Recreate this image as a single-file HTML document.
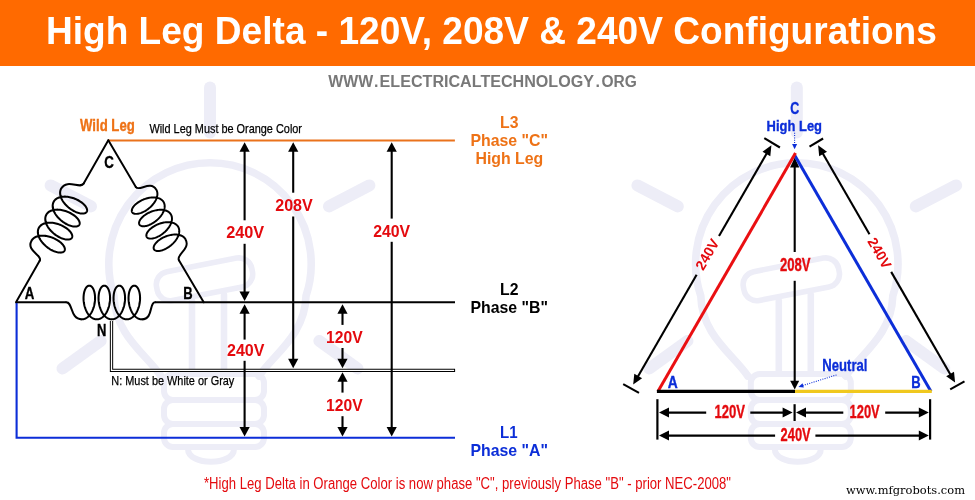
<!DOCTYPE html>
<html lang="en"><head><meta charset="utf-8"><title>High Leg Delta - 120V, 208V &amp; 240V Configurations</title>
<style>html,body{margin:0;padding:0;background:#fff;overflow:hidden}svg{display:block;will-change:transform}</style></head>
<body>
<svg width="975" height="500" viewBox="0 0 975 500" role="img" aria-label="High Leg Delta diagram">
<defs><g id="bulb" fill="none" stroke="#ededf7" stroke-width="12" stroke-linecap="round" stroke-linejoin="round">
<line x1="0" y1="87.5" x2="0" y2="132.5"/>
<line x1="-159.4" y1="185.4" x2="-119" y2="206.4"/>
<line x1="159.4" y1="185.4" x2="119" y2="206.4"/>
<line x1="-147.5" y1="368.5" x2="-109.4" y2="341"/>
<line x1="147.5" y1="368.5" x2="109.4" y2="341"/>
<path d="M-49,376 C-64,354 -95,335 -96,296 A101.2,101.2 0 1 1 96,296 C95,335 64,354 49,376" stroke-width="7.6"/>
<rect x="-48.5" y="-14.7" width="97" height="29.4" rx="13" stroke-width="5.6" transform="translate(-5.5,279.3) rotate(-11)"/>
<path d="M-18,301 V373 M14,295 V373" stroke-width="6.6"/>
<rect x="-46" y="374" width="100" height="26" rx="9" stroke-width="6"/>
<rect x="-46" y="400" width="100" height="24" rx="9" stroke-width="6"/>
<rect x="-46" y="424" width="100" height="23" rx="9" stroke-width="6"/>
<path d="M-22,449 C-22,466 24,466 24,449" stroke-width="6"/>
</g><path id="coil" d="M66.3,302.3 C73,302.3 70,319.3 81.8,319.35 L82.53,319.32 83.25,319.22 83.97,319.05 84.69,318.82 85.39,318.53 86.09,318.17 86.77,317.75 87.43,317.27 88.08,316.73 88.71,316.13 89.31,315.48 89.90,314.78 90.46,314.03 90.99,313.24 91.49,312.40 91.97,311.53 92.41,310.62 92.82,309.67 93.20,308.70 93.55,307.71 93.86,306.69 94.14,305.66 94.38,304.61 94.58,303.56 94.75,302.50 94.88,301.44 94.98,300.39 95.04,299.34 95.06,298.31 95.05,297.29 95.00,296.30 94.92,295.33 94.81,294.38 94.67,293.47 94.49,292.60 94.29,291.76 94.06,290.97 93.80,290.22 93.51,289.52 93.21,288.87 92.88,288.27 92.53,287.73 92.17,287.25 91.79,286.83 91.39,286.47 90.99,286.18 90.57,285.95 90.15,285.78 89.73,285.68 89.30,285.65 88.87,285.68 88.45,285.78 88.03,285.95 87.61,286.18 87.21,286.47 86.81,286.83 86.43,287.25 86.07,287.73 85.72,288.27 85.39,288.87 85.09,289.52 84.80,290.22 84.54,290.97 84.31,291.76 84.11,292.60 83.93,293.47 83.79,294.38 83.68,295.33 83.60,296.30 83.55,297.29 83.54,298.31 83.56,299.34 83.62,300.39 83.72,301.44 83.85,302.50 84.02,303.56 84.22,304.61 84.46,305.66 84.74,306.69 85.05,307.71 85.40,308.70 85.78,309.67 86.19,310.62 86.63,311.53 87.11,312.40 87.61,313.24 88.14,314.03 88.70,314.78 89.29,315.48 89.89,316.13 90.52,316.73 91.17,317.27 91.83,317.75 92.51,318.17 93.21,318.53 93.91,318.82 94.63,319.05 95.35,319.22 96.07,319.32 96.80,319.35 97.53,319.32 98.25,319.22 98.97,319.05 99.69,318.82 100.39,318.53 101.09,318.17 101.77,317.75 102.43,317.27 103.08,316.73 103.71,316.13 104.31,315.48 104.90,314.78 105.46,314.03 105.99,313.24 106.49,312.40 106.97,311.53 107.41,310.62 107.82,309.67 108.20,308.70 108.55,307.71 108.86,306.69 109.14,305.66 109.38,304.61 109.58,303.56 109.75,302.50 109.88,301.44 109.98,300.39 110.04,299.34 110.06,298.31 110.05,297.29 110.00,296.30 109.92,295.33 109.81,294.38 109.67,293.47 109.49,292.60 109.29,291.76 109.06,290.97 108.80,290.22 108.51,289.52 108.21,288.87 107.88,288.27 107.53,287.73 107.17,287.25 106.79,286.83 106.39,286.47 105.99,286.18 105.57,285.95 105.15,285.78 104.73,285.68 104.30,285.65 103.87,285.68 103.45,285.78 103.03,285.95 102.61,286.18 102.21,286.47 101.81,286.83 101.43,287.25 101.07,287.73 100.72,288.27 100.39,288.87 100.09,289.52 99.80,290.22 99.54,290.97 99.31,291.76 99.11,292.60 98.93,293.47 98.79,294.38 98.68,295.33 98.60,296.30 98.55,297.29 98.54,298.31 98.56,299.34 98.62,300.39 98.72,301.44 98.85,302.50 99.02,303.56 99.22,304.61 99.46,305.66 99.74,306.69 100.05,307.71 100.40,308.70 100.78,309.67 101.19,310.62 101.63,311.53 102.11,312.40 102.61,313.24 103.14,314.03 103.70,314.78 104.29,315.48 104.89,316.13 105.52,316.73 106.17,317.27 106.83,317.75 107.51,318.17 108.21,318.53 108.91,318.82 109.63,319.05 110.35,319.22 111.07,319.32 111.80,319.35 112.53,319.32 113.25,319.22 113.97,319.05 114.69,318.82 115.39,318.53 116.09,318.17 116.77,317.75 117.43,317.27 118.08,316.73 118.71,316.13 119.31,315.48 119.90,314.78 120.46,314.03 120.99,313.24 121.49,312.40 121.97,311.53 122.41,310.62 122.82,309.67 123.20,308.70 123.55,307.71 123.86,306.69 124.14,305.66 124.38,304.61 124.58,303.56 124.75,302.50 124.88,301.44 124.98,300.39 125.04,299.34 125.06,298.31 125.05,297.29 125.00,296.30 124.92,295.33 124.81,294.38 124.67,293.47 124.49,292.60 124.29,291.76 124.06,290.97 123.80,290.22 123.51,289.52 123.21,288.87 122.88,288.27 122.53,287.73 122.17,287.25 121.79,286.83 121.39,286.47 120.99,286.18 120.57,285.95 120.15,285.78 119.73,285.68 119.30,285.65 118.87,285.68 118.45,285.78 118.03,285.95 117.61,286.18 117.21,286.47 116.81,286.83 116.43,287.25 116.07,287.73 115.72,288.27 115.39,288.87 115.09,289.52 114.80,290.22 114.54,290.97 114.31,291.76 114.11,292.60 113.93,293.47 113.79,294.38 113.68,295.33 113.60,296.30 113.55,297.29 113.54,298.31 113.56,299.34 113.62,300.39 113.72,301.44 113.85,302.50 114.02,303.56 114.22,304.61 114.46,305.66 114.74,306.69 115.05,307.71 115.40,308.70 115.78,309.67 116.19,310.62 116.63,311.53 117.11,312.40 117.61,313.24 118.14,314.03 118.70,314.78 119.29,315.48 119.89,316.13 120.52,316.73 121.17,317.27 121.83,317.75 122.51,318.17 123.21,318.53 123.91,318.82 124.63,319.05 125.35,319.22 126.07,319.32 126.80,319.35 127.53,319.32 128.25,319.22 128.97,319.05 129.69,318.82 130.39,318.53 131.09,318.17 131.77,317.75 132.43,317.27 133.08,316.73 133.71,316.13 134.31,315.48 134.90,314.78 135.46,314.03 135.99,313.24 136.49,312.40 136.97,311.53 137.41,310.62 137.82,309.67 138.20,308.70 138.55,307.71 138.86,306.69 139.14,305.66 139.38,304.61 139.58,303.56 139.75,302.50 139.88,301.44 139.98,300.39 140.04,299.34 140.06,298.31 140.05,297.29 140.00,296.30 139.92,295.33 139.81,294.38 139.67,293.47 139.49,292.60 139.29,291.76 139.06,290.97 138.80,290.22 138.51,289.52 138.21,288.87 137.88,288.27 137.53,287.73 137.17,287.25 136.79,286.83 136.39,286.47 135.99,286.18 135.57,285.95 135.15,285.78 134.73,285.68 134.30,285.65 133.87,285.68 133.45,285.78 133.03,285.95 132.61,286.18 132.21,286.47 131.81,286.83 131.43,287.25 131.07,287.73 130.72,288.27 130.39,288.87 130.09,289.52 129.80,290.22 129.54,290.97 129.31,291.76 129.11,292.60 128.93,293.47 128.79,294.38 128.68,295.33 128.60,296.30 128.55,297.29 128.54,298.31 128.56,299.34 128.62,300.39 128.72,301.44 128.85,302.50 129.02,303.56 129.22,304.61 129.46,305.66 129.74,306.69 130.05,307.71 130.40,308.70 130.78,309.67 131.19,310.62 131.63,311.53 132.11,312.40 132.61,313.24 133.14,314.03 133.70,314.78 134.29,315.48 134.89,316.13 135.52,316.73 136.17,317.27 136.83,317.75 137.51,318.17 138.21,318.53 138.91,318.82 139.63,319.05 140.35,319.22 141.07,319.32 141.80,319.35 C153.5,319.3 149,302.3 155,302.3" fill="none" stroke="#000" stroke-width="2.05" stroke-linejoin="round" stroke-linecap="round"/></defs>
<rect width="975" height="500" fill="#fff"/>
<use href="#bulb" x="210" y="0"/>
<use href="#bulb" x="796.8" y="0"/>
<rect width="975" height="66" fill="#ff6a00"/>
<text x="45.9" y="43.7" font-family='"Liberation Sans", sans-serif' font-size="38" font-weight="bold" fill="#fff" text-anchor="start" textLength="891" lengthAdjust="spacingAndGlyphs">High Leg Delta - 120V, 208V &amp; 240V Configurations</text>
<text y="86.6" font-family='"Liberation Sans", sans-serif' font-size="16" font-weight="bold" fill="#787878"><tspan x="328.3" textLength="44.8" lengthAdjust="spacingAndGlyphs">WWW</tspan><tspan x="374">.</tspan><tspan x="379.6" textLength="214.4" lengthAdjust="spacingAndGlyphs">ELECTRICALTECHNOLOGY</tspan><tspan x="595.4">.</tspan><tspan x="601.4" textLength="35.4" lengthAdjust="spacingAndGlyphs">ORG</tspan></text>
<line x1="108.0" y1="140.5" x2="454.9" y2="140.5" stroke="#ea721c" stroke-width="2.1"/>
<line x1="16" y1="302.3" x2="66.4" y2="302.3" stroke="#000" stroke-width="2.0"/>
<line x1="154.9" y1="302.3" x2="455" y2="302.3" stroke="#000" stroke-width="2.0"/>
<path d="M16.6,303 V437.8 H455" fill="none" stroke="#0c2ed8" stroke-width="2.1"/>
<path d="M111.5,321 V370.4 H455.1" fill="none" stroke="#000" stroke-width="3.3"/>
<path d="M111.5,320 V370.4 H454.1" fill="none" stroke="#fff" stroke-width="1.3"/>
<use href="#coil"/>
<line x1="16" y1="302.3" x2="39.80634056788067" y2="260.5163903358974" stroke="#000" stroke-width="1.95" stroke-linecap="round"/>
<line x1="83.64692159459015" y1="183.5697584146955" x2="108.3" y2="140.3" stroke="#000" stroke-width="1.95" stroke-linecap="round"/>
<use href="#coil" transform="translate(39.81,260.52) rotate(-240.33) scale(0.9984) translate(-155,-302.3)"/>
<line x1="108.3" y1="140.3" x2="135.83191859932165" y2="187.0523146026217" stroke="#000" stroke-width="1.95" stroke-linecap="round"/>
<line x1="178.91597763314692" y1="260.21392428270235" x2="203.7" y2="302.3" stroke="#000" stroke-width="1.95" stroke-linecap="round"/>
<use href="#coil" transform="translate(135.83,187.05) rotate(-120.49) scale(0.9572) translate(-155,-302.3)"/>
<text x="80" y="131" font-family='"Liberation Sans", sans-serif' font-size="16" font-weight="bold" fill="#ee7216" text-anchor="start" textLength="54.8" lengthAdjust="spacingAndGlyphs" stroke="#ee7216" stroke-width="0.35">Wild Leg</text>
<text x="149.4" y="133.2" font-family='"Liberation Sans", sans-serif' font-size="13.2" font-weight="normal" fill="#000" text-anchor="start" textLength="152.6" lengthAdjust="spacingAndGlyphs" stroke="#000" stroke-width="0.25">Wild Leg Must be Orange Color</text>
<text x="111.3" y="384.9" font-family='"Liberation Sans", sans-serif' font-size="13.2" font-weight="normal" fill="#000" text-anchor="start" textLength="123" lengthAdjust="spacingAndGlyphs" stroke="#000" stroke-width="0.25">N: Must be White or Gray</text>
<text x="104.2" y="167.9" font-family='"Liberation Sans", sans-serif' font-size="16.4" font-weight="bold" fill="#000" text-anchor="start" textLength="9.6" lengthAdjust="spacingAndGlyphs" stroke="#000" stroke-width="0.35">C</text>
<text x="24.8" y="298.7" font-family='"Liberation Sans", sans-serif' font-size="17.2" font-weight="bold" fill="#000" text-anchor="start" textLength="9.6" lengthAdjust="spacingAndGlyphs" stroke="#000" stroke-width="0.35">A</text>
<text x="183.2" y="298.8" font-family='"Liberation Sans", sans-serif' font-size="16.2" font-weight="bold" fill="#000" text-anchor="start" textLength="9.4" lengthAdjust="spacingAndGlyphs" stroke="#000" stroke-width="0.35">B</text>
<text x="97" y="336.1" font-family='"Liberation Sans", sans-serif' font-size="17.4" font-weight="bold" fill="#000" text-anchor="start" textLength="9.4" lengthAdjust="spacingAndGlyphs" stroke="#000" stroke-width="0.35">N</text>
<polygon points="244.60,142.20 249.70,151.70 239.50,151.70" fill="#000"/>
<line x1="244.6" y1="150" x2="244.6" y2="220.3" stroke="#000" stroke-width="2.1"/>
<line x1="244.6" y1="243.8" x2="244.6" y2="293" stroke="#000" stroke-width="2.1"/>
<polygon points="244.60,301.00 239.50,291.50 249.70,291.50" fill="#000"/>
<polygon points="244.60,304.30 249.70,313.80 239.50,313.80" fill="#000"/>
<line x1="244.6" y1="312" x2="244.6" y2="339.6" stroke="#000" stroke-width="2.1"/>
<line x1="244.6" y1="360.8" x2="244.6" y2="429" stroke="#000" stroke-width="2.1"/>
<polygon points="244.60,436.60 239.50,427.10 249.70,427.10" fill="#000"/>
<polygon points="293.20,142.20 298.30,151.70 288.10,151.70" fill="#000"/>
<line x1="293.2" y1="150" x2="293.2" y2="192.7" stroke="#000" stroke-width="2.1"/>
<line x1="293.2" y1="216.5" x2="293.2" y2="360.5" stroke="#000" stroke-width="2.1"/>
<polygon points="293.20,368.30 288.10,358.80 298.30,358.80" fill="#000"/>
<polygon points="342.50,304.30 347.60,313.80 337.40,313.80" fill="#000"/>
<line x1="342.5" y1="312" x2="342.5" y2="324.9" stroke="#000" stroke-width="2.1"/>
<line x1="342.5" y1="348" x2="342.5" y2="360.5" stroke="#000" stroke-width="2.1"/>
<polygon points="342.50,368.30 337.40,358.80 347.60,358.80" fill="#000"/>
<polygon points="342.50,372.30 347.60,381.80 337.40,381.80" fill="#000"/>
<line x1="342.5" y1="380.5" x2="342.5" y2="392.6" stroke="#000" stroke-width="2.1"/>
<line x1="342.5" y1="416.2" x2="342.5" y2="429" stroke="#000" stroke-width="2.1"/>
<polygon points="342.50,436.60 337.40,427.10 347.60,427.10" fill="#000"/>
<polygon points="391.70,142.20 396.80,151.70 386.60,151.70" fill="#000"/>
<line x1="391.7" y1="150" x2="391.7" y2="218.6" stroke="#000" stroke-width="2.1"/>
<line x1="391.7" y1="241.8" x2="391.7" y2="429" stroke="#000" stroke-width="2.1"/>
<polygon points="391.70,436.60 386.60,427.10 396.80,427.10" fill="#000"/>
<text x="226.2" y="238.3" font-family='"Liberation Sans", sans-serif' font-size="16" font-weight="bold" fill="#e40a0e" text-anchor="start" textLength="38" lengthAdjust="spacingAndGlyphs">240V</text>
<text x="275.2" y="210.7" font-family='"Liberation Sans", sans-serif' font-size="16" font-weight="bold" fill="#e40a0e" text-anchor="start" textLength="37.6" lengthAdjust="spacingAndGlyphs">208V</text>
<text x="373.2" y="237.3" font-family='"Liberation Sans", sans-serif' font-size="16" font-weight="bold" fill="#e40a0e" text-anchor="start" textLength="37" lengthAdjust="spacingAndGlyphs">240V</text>
<text x="227" y="355.6" font-family='"Liberation Sans", sans-serif' font-size="16" font-weight="bold" fill="#e40a0e" text-anchor="start" textLength="37.4" lengthAdjust="spacingAndGlyphs">240V</text>
<text x="326" y="342.5" font-family='"Liberation Sans", sans-serif' font-size="16" font-weight="bold" fill="#e40a0e" text-anchor="start" textLength="36.6" lengthAdjust="spacingAndGlyphs">120V</text>
<text x="326" y="410.6" font-family='"Liberation Sans", sans-serif' font-size="16" font-weight="bold" fill="#e40a0e" text-anchor="start" textLength="36.6" lengthAdjust="spacingAndGlyphs">120V</text>
<text x="509.3" y="127.5" font-family='"Liberation Sans", sans-serif' font-size="16.2" font-weight="bold" fill="#ee7216" text-anchor="middle" textLength="18.4" lengthAdjust="spacingAndGlyphs">L3</text>
<text x="509.2" y="145.7" font-family='"Liberation Sans", sans-serif' font-size="16.2" font-weight="bold" fill="#ee7216" text-anchor="middle" textLength="77.6" lengthAdjust="spacingAndGlyphs">Phase &quot;C&quot;</text>
<text x="509.4" y="164.4" font-family='"Liberation Sans", sans-serif' font-size="16.2" font-weight="bold" fill="#ee7216" text-anchor="middle" textLength="67.8" lengthAdjust="spacingAndGlyphs">High Leg</text>
<text x="509.3" y="294.7" font-family='"Liberation Sans", sans-serif' font-size="16.2" font-weight="bold" fill="#000" text-anchor="middle" textLength="18.4" lengthAdjust="spacingAndGlyphs">L2</text>
<text x="509.2" y="312.9" font-family='"Liberation Sans", sans-serif' font-size="16.2" font-weight="bold" fill="#000" text-anchor="middle" textLength="77.6" lengthAdjust="spacingAndGlyphs">Phase &quot;B&quot;</text>
<text x="508.9" y="438.1" font-family='"Liberation Sans", sans-serif' font-size="16.2" font-weight="bold" fill="#0c2ed8" text-anchor="middle" textLength="17.6" lengthAdjust="spacingAndGlyphs">L1</text>
<text x="509.2" y="456" font-family='"Liberation Sans", sans-serif' font-size="16.2" font-weight="bold" fill="#0c2ed8" text-anchor="middle" textLength="77.6" lengthAdjust="spacingAndGlyphs">Phase &quot;A&quot;</text>
<text x="204" y="488.7" font-family='"Liberation Sans", sans-serif' font-size="15.8" font-weight="normal" fill="#e40a0e" text-anchor="start" textLength="527" lengthAdjust="spacingAndGlyphs">*High Leg Delta in Orange Color is now phase &quot;C&quot;, previously Phase &quot;B&quot; - prior NEC-2008&quot;</text>
<text x="846" y="493.6" font-family='"DejaVu Serif", "Liberation Serif", serif' font-size="10.8" font-weight="normal" fill="#000" text-anchor="start" textLength="119" lengthAdjust="spacingAndGlyphs">www.mfgrobots.com</text>
<polygon points="771.40,145.30 770.30,156.21 762.50,151.71" fill="#000"/>
<polygon points="633.20,384.60 634.30,373.69 642.10,378.19" fill="#000"/>
<line x1="767.3991297862024" y1="152.22770073923138" x2="719.0143522847824" y2="236.0082886993603" stroke="#000" stroke-width="2.1"/>
<line x1="637.2008702137977" y1="377.6722992607687" x2="696.6220147182439" y2="274.7817067867167" stroke="#000" stroke-width="2.1"/>
<line x1="764.3" y1="138.2" x2="779.9" y2="147.5" stroke="#000" stroke-width="2.1"/>
<line x1="623.2" y1="384.1" x2="639" y2="392.8" stroke="#000" stroke-width="2.1"/>
<polygon points="818.10,145.30 827.00,151.71 819.20,156.21" fill="#000"/>
<polygon points="955.10,382.60 946.20,376.19 954.00,371.69" fill="#000"/>
<line x1="822.0998857207056" y1="152.22826920820026" x2="869.4817537199177" y2="234.29919823165307" stroke="#000" stroke-width="2.1"/>
<line x1="951.1001142792944" y1="375.6717307917998" x2="891.1856230043863" y2="271.8928345908094" stroke="#000" stroke-width="2.1"/>
<line x1="809.5" y1="146.7" x2="823.1" y2="138.5" stroke="#000" stroke-width="2.1"/>
<line x1="950.2" y1="389.4" x2="964.5" y2="381.4" stroke="#000" stroke-width="2.1"/>
<polygon points="794.70,157.40 799.30,167.60 790.10,167.60" fill="#000"/>
<line x1="794.7" y1="165" x2="794.7" y2="252" stroke="#000" stroke-width="2.1"/>
<line x1="794.7" y1="280.8" x2="794.7" y2="382" stroke="#000" stroke-width="2.1"/>
<polygon points="794.70,389.60 790.20,380.80 799.20,380.80" fill="#000"/>
<line x1="931.0" y1="391.4" x2="794.4" y2="154.8" stroke="#0c2ed8" stroke-width="3.0"/>
<line x1="657.9" y1="391.4" x2="795.5" y2="153.1" stroke="#ea0f12" stroke-width="3.0"/>
<line x1="656.9" y1="391.4" x2="795" y2="391.4" stroke="#000" stroke-width="3.3"/>
<line x1="795" y1="391.4" x2="931.8" y2="391.4" stroke="#f0c81e" stroke-width="3.3"/>
<g transform="translate(707.0,254.3) rotate(-59.99)">
<text x="0" y="5.1" font-family='"Liberation Sans", sans-serif' font-size="14.2" font-weight="bold" fill="#e40a0e" text-anchor="middle" textLength="33" lengthAdjust="spacingAndGlyphs">240V</text>
</g>
<g transform="translate(879.7,253.0) rotate(60.00)">
<text x="0" y="5.1" font-family='"Liberation Sans", sans-serif' font-size="14.2" font-weight="bold" fill="#e40a0e" text-anchor="middle" textLength="33" lengthAdjust="spacingAndGlyphs">240V</text>
</g>
<text x="780" y="271.2" font-family='"Liberation Sans", sans-serif' font-size="18" font-weight="bold" fill="#e40a0e" text-anchor="start" textLength="30.6" lengthAdjust="spacingAndGlyphs" stroke="#e40a0e" stroke-width="0.35">208V</text>
<text x="790.2" y="114.1" font-family='"Liberation Sans", sans-serif' font-size="16.2" font-weight="bold" fill="#0c2ed8" text-anchor="start" textLength="9.0" lengthAdjust="spacingAndGlyphs" stroke="#0c2ed8" stroke-width="0.35">C</text>
<text x="766.6" y="131.0" font-family='"Liberation Sans", sans-serif' font-size="15.3" font-weight="bold" fill="#0c2ed8" text-anchor="start" textLength="55.4" lengthAdjust="spacingAndGlyphs" stroke="#0c2ed8" stroke-width="0.35">High Leg</text>
<text x="822.3" y="370.9" font-family='"Liberation Sans", sans-serif' font-size="17.4" font-weight="bold" fill="#0c2ed8" text-anchor="start" textLength="45.2" lengthAdjust="spacingAndGlyphs" stroke="#0c2ed8" stroke-width="0.35">Neutral</text>
<text x="667.8" y="387.5" font-family='"Liberation Sans", sans-serif' font-size="15.6" font-weight="bold" fill="#0c2ed8" text-anchor="start" textLength="10" lengthAdjust="spacingAndGlyphs" stroke="#0c2ed8" stroke-width="0.35">A</text>
<text x="911.2" y="387.5" font-family='"Liberation Sans", sans-serif' font-size="16" font-weight="bold" fill="#0c2ed8" text-anchor="start" textLength="9.4" lengthAdjust="spacingAndGlyphs" stroke="#0c2ed8" stroke-width="0.35">B</text>
<line x1="794.6" y1="132.8" x2="794.6" y2="144.5" stroke="#0c2ed8" stroke-width="1.1" stroke-dasharray="1 1.3"/>
<polygon points="794.60,149.20 792.10,143.90 797.10,143.90" fill="#0c2ed8"/>
<line x1="836.5" y1="374.9" x2="802.5" y2="385.6" stroke="#0c2ed8" stroke-width="1.1" stroke-dasharray="1 1.3"/>
<polygon points="798.40,386.90 802.51,383.30 803.83,387.50" fill="#0c2ed8"/>
<line x1="657.4" y1="399.2" x2="657.4" y2="439.6" stroke="#000" stroke-width="2.2"/>
<line x1="930.1" y1="399.2" x2="930.1" y2="439.6" stroke="#000" stroke-width="2.2"/>
<line x1="794.6" y1="404.2" x2="794.6" y2="421" stroke="#000" stroke-width="2.2"/>
<polygon points="659.00,412.60 669.00,407.60 669.00,417.60" fill="#000"/>
<line x1="668" y1="412.6" x2="706.2" y2="412.6" stroke="#000" stroke-width="2.1"/>
<line x1="750.3" y1="412.6" x2="784" y2="412.6" stroke="#000" stroke-width="2.1"/>
<polygon points="792.60,412.60 782.60,417.60 782.60,407.60" fill="#000"/>
<polygon points="796.00,412.60 806.00,407.60 806.00,417.60" fill="#000"/>
<line x1="805" y1="412.6" x2="843.3" y2="412.6" stroke="#000" stroke-width="2.1"/>
<line x1="885.2" y1="412.6" x2="920" y2="412.6" stroke="#000" stroke-width="2.1"/>
<polygon points="928.80,412.60 918.80,417.60 918.80,407.60" fill="#000"/>
<polygon points="659.00,435.60 669.00,430.60 669.00,440.60" fill="#000"/>
<line x1="668" y1="435.6" x2="775.1" y2="435.6" stroke="#000" stroke-width="2.1"/>
<line x1="815.4" y1="435.6" x2="920" y2="435.6" stroke="#000" stroke-width="2.1"/>
<polygon points="928.80,435.60 918.80,440.60 918.80,430.60" fill="#000"/>
<text x="714.4" y="418" font-family='"Liberation Sans", sans-serif' font-size="18" font-weight="bold" fill="#e40a0e" text-anchor="start" textLength="30.6" lengthAdjust="spacingAndGlyphs" stroke="#e40a0e" stroke-width="0.35">120V</text>
<text x="849.5" y="418" font-family='"Liberation Sans", sans-serif' font-size="18" font-weight="bold" fill="#e40a0e" text-anchor="start" textLength="30.2" lengthAdjust="spacingAndGlyphs" stroke="#e40a0e" stroke-width="0.35">120V</text>
<text x="780.6" y="440.7" font-family='"Liberation Sans", sans-serif' font-size="18" font-weight="bold" fill="#e40a0e" text-anchor="start" textLength="30" lengthAdjust="spacingAndGlyphs" stroke="#e40a0e" stroke-width="0.35">240V</text>
</svg>
</body></html>
